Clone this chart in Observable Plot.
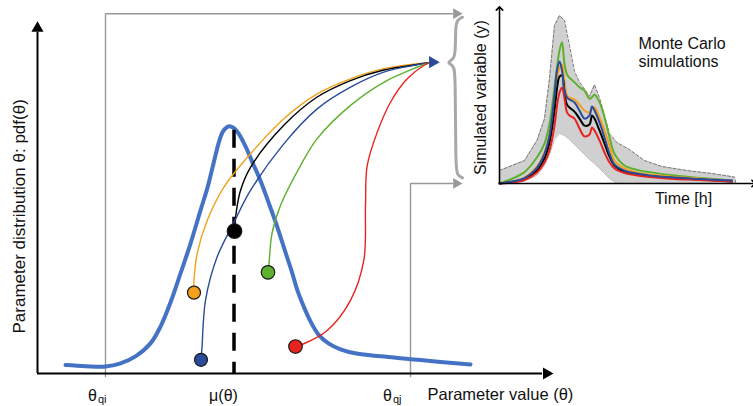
<!DOCTYPE html>
<html><head><meta charset="utf-8">
<script src="https://cdn.jsdelivr.net/npm/d3@7"></script>
<script src="https://cdn.jsdelivr.net/npm/@observablehq/plot@0.6"></script>
<style>
body{margin:0;background:#fff;}
#wrap{position:relative;width:753px;height:406px;overflow:hidden;}
#wrap svg{position:absolute;top:0;left:0;}
</style></head><body><div id="wrap"></div>
<script>
const FONT = "'Liberation Sans', Arial, sans-serif";

// ---------- main diagram: parameter value θ vs pdf(θ) ----------
const pdfTheta = [5.6, 9.6, 13.6, 16.6, 19.6, 22.6, 24.6, 26.6, 28.6, 30.6, 32.6, 34, 35.2, 36.2, 37, 37.8, 38.6, 39.4, 40.2, 41.6, 43, 44.6, 46.2, 48, 49.6, 50.8, 52, 53.4, 54.6, 56.2, 58.2, 60.6, 63.8, 68.6, 74.6, 80.6, 86.6];
const pdfValue = [2.4, 2.1, 2, 2.9, 4.9, 8.6, 13.4, 20.3, 28.6, 37.1, 46.6, 53.1, 60, 65.7, 68.9, 70.3, 70.6, 70, 68.6, 64.9, 60.3, 55.1, 48.9, 41.7, 34.6, 29.4, 23.7, 18.6, 14.9, 11.1, 8.6, 6.9, 5.7, 4.9, 4.1, 3.3, 2.6];

// five sampled parameter sets (ids, colours, position on the pdf)
const sampleIds    = ["S-orange", "S-black", "S-blue", "S-green", "S-red"];
const sampleColors = ["#f5a01a", "#000000", "#2b4c9b", "#5db12f", "#e8231f"];
const sampleTheta  = [31.3, 39.4, 32.7, 46.1, 51.6];
const samplePdf    = [23.1, 40.7, 3.9, 28.9, 7.7];
const sampleRadius = [6.5, 7.3, 6.5, 6.8, 6.8];

// paths from each sampled parameter to the model run (θ, level)
const orangePath = [[31.26,23.1],[31.3,26.6],[31.94,34.3],[33.94,43.7],[37.26,53.2],[42.6,62.8],[49.26,72.8],[55.94,79.9],[62.6,84.2],[69.26,87.1],[75.94,88.5],[78.6,88.9]];
const blackPath  = [[39.4,40.6],[39.8,46.6],[40.6,52.3],[42.6,58.9],[49.26,70.9],[55.94,79.0],[62.6,83.7],[69.26,86.7],[75.94,88.3],[78.6,88.9]];
const bluePath   = [[32.7,4],[32.9,7.5],[33.6,20.9],[35.9,33.2],[39.3,43.2],[42.6,52.3],[49.26,65.6],[55.94,75.6],[62.6,81.8],[69.26,86.1],[75.94,88.2],[78.6,88.9]];
const greenPath  = [[46.1,28.9],[46.3,31.4],[46.9,40],[48.6,48],[52.6,59.4],[55.94,67.1],[62.6,76.6],[69.26,83.2],[75.94,87.5],[78.6,88.9]];
const redPath    = [[51.6,7.7],[53.26,8.5],[57.94,12.3],[62.6,20.9],[65.26,32.3],[65.6,48],[65.94,59.4],[67.94,68.9],[70.6,77.5],[73.94,84.2],[77.26,88],[78.6,88.9]];
const samplePaths = [orangePath, blackPath, bluePath, greenPath, redPath];

const meanTheta = 39.3, meanTop = 69.5;
const thetaQi = 13.6, thetaQj = 74.6;
const levelTop = 102.8, levelBottom = 54.3;      // inset top / inset zero, in main units
const connectorEnd = 83.0, connectorTip = 85.0;
const targetTip = 80.46, targetLevel = 88.95;
const braceTheta = [85, 84, 83.6, 83.6, 83.2, 81.8, 83.2, 83.6, 83.6, 84, 85];
const braceLevel = [101.8, 101.1, 99.4, 91.7, 89.7, 88.9, 88, 86, 58.6, 56.6, 55.9];
const xAxisEnd = 101, xAxisTip = 103.2, yAxisEnd = 97.5, yAxisTip = 100.66;

// ---------- inset: Monte Carlo simulations ----------
const bandT  = [0, 5, 10, 15, 18, 20, 22, 24, 26, 28, 30, 32, 34, 36, 38, 40, 42, 44, 47, 52, 58, 65, 75, 85, 94, 94.5];
const bandHi = [7.4, 10.3, 13.1, 24.6, 37, 60, 90.3, 96, 93.1, 78.9, 64, 58, 54, 49.8, 56.5, 49, 39, 28.5, 23.4, 19.4, 13.1, 9.7, 7.4, 5.7, 3.7, 0.6];
const bandLo = [0, 0.9, 1.4, 4.6, 10.3, 16.6, 25.1, 28.6, 27.4, 25.1, 22.3, 19.4, 16.6, 13.7, 11.4, 8.6, 5.7, 2.9, 0, 0, 0, 0, 0, 0, 0, 0];

const simT   = [0, 5, 10, 15, 18, 20, 22, 23, 24, 25, 26, 27, 28, 30, 32, 34, 36, 37, 38, 40, 42, 44, 46, 50, 55, 60, 70, 80, 93];
const simGreen  = [0, 2.7, 6.5, 15, 22.8, 34, 55, 66.5, 76, 80.7, 68.4, 62.3, 60.4, 57.9, 55, 53.1, 48.4, 49.3, 50.7, 46.5, 37.9, 26.5, 17, 10.3, 7.8, 6.5, 4.6, 3.2, 1.7];
const simOrange = [0, 1.1, 3.4, 9.7, 17.7, 27.4, 47.4, 60, 66, 68, 58.9, 50.3, 49.1, 48, 45.1, 41.7, 40.6, 42.9, 43.4, 37.7, 30.3, 21.7, 13.1, 8.6, 6.3, 5.1, 3.7, 2.9, 1.4];
const simBlack  = [0, 0.9, 2.6, 7.4, 14.3, 23.4, 41.7, 54.3, 61.1, 61.7, 52, 45.1, 43.4, 41.1, 37.1, 33.1, 33.7, 38.9, 37.1, 30.3, 22.9, 15.4, 10.3, 6.9, 5.1, 4.3, 3.1, 2.3, 1.1];
const simRed    = [0, 0.6, 2, 6.3, 12, 18.9, 33.1, 44.6, 52, 54.9, 48.6, 40.6, 38.9, 37.1, 31.4, 26.9, 28, 32, 30.3, 24.6, 17.7, 12, 8.6, 6, 4.6, 3.7, 2.6, 2, 1.1];
const simBlue   = [0, 1.1, 3.1, 9.1, 17.1, 27.4, 50.3, 64.6, 69.7, 64.6, 53.1, 49.1, 48, 46.3, 41.7, 37.1, 38.9, 44, 41.7, 34.9, 26.3, 17.1, 10.9, 7.4, 5.7, 4.6, 3.4, 2.6, 1.7];
const simOrder = ["S-green", "S-orange", "S-black", "S-red", "S-blue"];
const simSeries = [simGreen, simOrange, simBlack, simRed, simBlue];

// ---------- build tables ----------
const pdfRows = pdfTheta.map((t, i) => ({t, v: pdfValue[i]}));
const pathRows = samplePaths.flatMap((p, i) => p.map(([t, v]) => ({t, v, s: sampleIds[i]})));
const dotRows = sampleIds.map((s, i) => ({s, t: sampleTheta[i], v: samplePdf[i], r: sampleRadius[i]}));
const braceRows = braceTheta.map((t, i) => ({t, v: braceLevel[i]}));
const topConnector = [{t: thetaQi, v: -0.9}, {t: thetaQi, v: levelTop}, {t: connectorEnd, v: levelTop}];
const bottomConnector = [{t: thetaQj, v: -0.9}, {t: thetaQj, v: levelBottom}, {t: connectorEnd, v: levelBottom}];
const bandRows = bandT.map((t, i) => ({t, hi: bandHi[i], lo: bandLo[i]}));
const simRows = simSeries.flatMap((vals, k) => vals.map((v, i) => ({t: simT[i], v, s: simOrder[k]})));

// triangle symbol: centroid-to-tip distance in px
const tipOff = r => 2 * Math.sqrt(Math.PI * r * r / (3 * Math.sqrt(3)));

const colorScale = {type: "ordinal", domain: sampleIds, range: sampleColors};

const main = Plot.plot({
  width: 753, height: 406, margin: 0,
  x: {domain: [-7.4, 143.2], axis: null},
  y: {domain: [-9.43, 106.57], axis: null},
  color: colorScale,
  r: {type: "identity"},
  style: {background: "transparent", fontFamily: FONT, overflow: "visible"},
  marks: [
    Plot.line(topConnector, {x: "t", y: "v", stroke: "#999", strokeWidth: 1.4}),
    Plot.line(bottomConnector, {x: "t", y: "v", stroke: "#999", strokeWidth: 1.4}),
    Plot.dot([{t: connectorTip, v: levelTop}, {t: connectorTip, v: levelBottom}], {x: "t", y: "v", symbol: "triangle", rotate: 90, r: 4, fill: "#999", stroke: "none", dx: -tipOff(4)}),
    Plot.line(braceRows, {x: "t", y: "v", curve: "basis", stroke: "#a8a8a8", strokeWidth: 3}),
    Plot.ruleY([0], {x1: 0, x2: xAxisEnd, stroke: "#000", strokeWidth: 2}),
    Plot.ruleX([0], {y1: 0, y2: yAxisEnd, stroke: "#000", strokeWidth: 2}),
    Plot.dot([{t: xAxisTip, v: 0}], {x: "t", y: "v", symbol: "triangle", rotate: 90, r: 4.5, fill: "#000", stroke: "none", dx: -tipOff(4.5)}),
    Plot.dot([{t: 0, v: yAxisTip}], {x: "t", y: "v", symbol: "triangle", r: 4.5, fill: "#000", stroke: "none", dy: tipOff(4.5)}),
    Plot.line(pdfRows, {x: "t", y: "v", curve: "catmull-rom", stroke: "#4472c4", strokeWidth: 4}),
    Plot.ruleX([meanTheta], {y1: meanTop, y2: 0, stroke: "#000", strokeWidth: 3.5, strokeDasharray: "18,11"}),
    Plot.line(pathRows, {x: "t", y: "v", z: "s", stroke: "s", curve: "catmull-rom", strokeWidth: 1.4}),
    Plot.dot(dotRows, {x: "t", y: "v", r: "r", fill: "s", stroke: "#1a1a1a", strokeWidth: 1.2}),
    Plot.dot([{t: targetTip, v: targetLevel}], {x: "t", y: "v", symbol: "triangle", rotate: 90, r: 4.6, fill: "#2b4c9b", stroke: "none", dx: -tipOff(4.6)}),
    // labels
    Plot.text([{t: -3.6, v: 44.9, s: "Parameter distribution θ: pdf(θ)"}], {x: "t", y: "v", text: "s", rotate: -90, fontSize: 17, textAnchor: "middle", lineAnchor: "middle", fill: "#111"}),
    Plot.text([{t: 11, v: -6.26, s: "θ"}, {t: 70, v: -6.26, s: "θ"}, {t: 37.2, v: -6.26, s: "μ(θ)"}], {x: "t", y: "v", text: "s", fontSize: 16, textAnchor: "middle", lineAnchor: "middle", fill: "#111"}),
    Plot.text([{t: 12.1, v: -7.3, s: "qi"}, {t: 71.1, v: -7.3, s: "qj"}], {x: "t", y: "v", text: "s", fontSize: 11, textAnchor: "start", lineAnchor: "middle", fill: "#111"}),
    Plot.text([{t: 78, v: -6.2, s: "Parameter value (θ)"}], {x: "t", y: "v", text: "s", fontSize: 16.5, textAnchor: "start", lineAnchor: "middle", fill: "#111"})
  ]
});

const inset = Plot.plot({
  width: 313, height: 210, marginLeft: 59, marginRight: 4, marginTop: 8, marginBottom: 27,
  x: {domain: [0, 100], axis: null},
  y: {domain: [0, 100], axis: null},
  color: colorScale,
  style: {background: "transparent", fontFamily: FONT, overflow: "visible"},
  marks: [
    Plot.areaY(bandRows, {x: "t", y1: "lo", y2: "hi", fill: "#d0d0d0"}),
    Plot.line(bandRows, {x: "t", y: "hi", stroke: "#7a7a7a", strokeWidth: 1, strokeDasharray: "3,2"}),
    Plot.line(bandRows, {x: "t", y: "lo", stroke: "#bdbdbd", strokeWidth: 1}),
    Plot.line(simRows, {x: "t", y: "v", z: "s", stroke: "s", strokeWidth: 2, curve: "catmull-rom"}),
    Plot.link([{x1: 0, y1: 0, x2: 101.6, y2: 0}], {x1: "x1", y1: "y1", x2: "x2", y2: "y2", stroke: "#000", strokeWidth: 1.6, markerEnd: "arrow"}),
    Plot.link([{x1: 0, y1: 0, x2: 0, y2: 100}], {x1: "x1", y1: "y1", x2: "x2", y2: "y2", stroke: "#000", strokeWidth: 1.6, markerEnd: "arrow"}),
    Plot.text([{t: -7.6, v: 49.1, s: "Simulated variable (y)"}], {x: "t", y: "v", text: "s", rotate: -90, fontSize: 16, textAnchor: "middle", lineAnchor: "middle", fill: "#111"}),
    Plot.text([{t: 73.6, v: -8.5, s: "Time [h]"}], {x: "t", y: "v", text: "s", fontSize: 16, textAnchor: "middle", lineAnchor: "middle", fill: "#111"}),
    Plot.text([{t: 55.6, v: 84.4, s: "Monte Carlo\nsimulations"}], {x: "t", y: "v", text: "s", fontSize: 16, lineHeight: 1.15, textAnchor: "start", lineAnchor: "top", fill: "#111"})
  ]
});

const wrap = document.getElementById("wrap");
main.style.left = "0px"; main.style.top = "0px";
inset.style.left = "440px"; inset.style.top = "0px";
wrap.appendChild(inset);
wrap.appendChild(main);
</script>
</body></html>
